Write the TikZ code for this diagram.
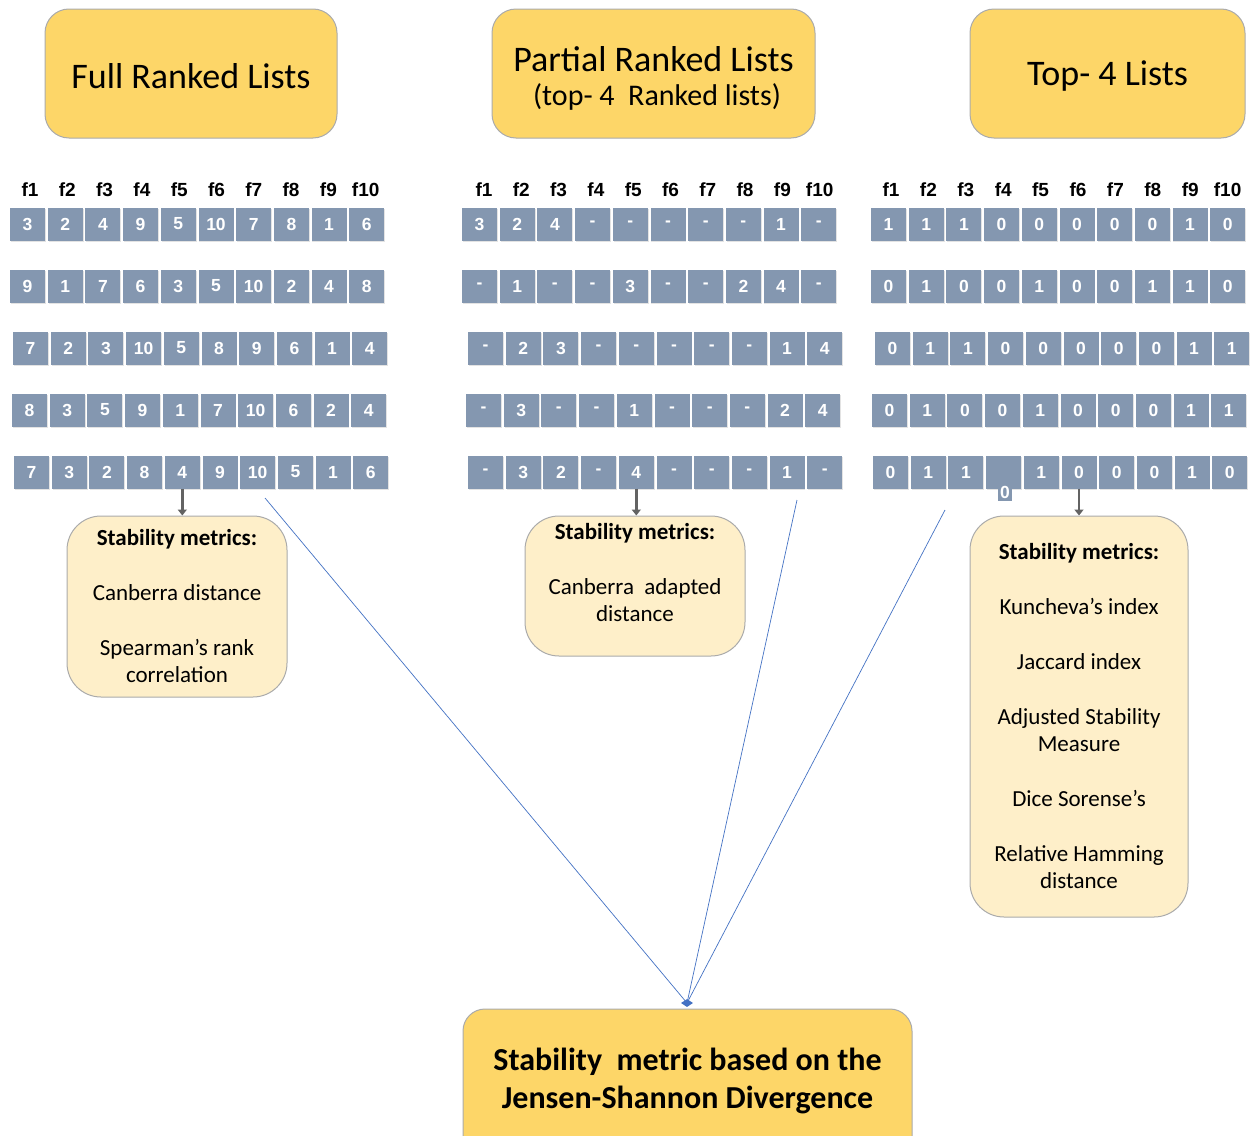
\documentclass[tikz,border=0pt]{standalone}
\usepackage{fontspec}
\setmainfont{Carlito}
\newfontfamily\arialf{Liberation Sans}
\usetikzlibrary{shapes.geometric,arrows.meta,shadows,calc}
\definecolor{titlefill}{HTML}{FDD668}
\definecolor{boxedge}{HTML}{ABABAB}
\definecolor{metfill}{HTML}{FEEFC9}
\definecolor{cellblue}{HTML}{8497B0}
\definecolor{linkblue}{HTML}{4472C4}
\definecolor{arrowgray}{HTML}{636363}
\newcommand\mycellrow[4]{%
  \foreach \v [count=\i] in {#4} {
    \node[cellbox] (#1c\i) at ({#2+17.5+37.7*(\i-1)}, #3) {\v};
  }%
}
\begin{document}
\begin{tikzpicture}[x=1pt,y=-1pt,
  titlebox/.style={draw=boxedge, line width=1pt, fill=titlefill, rounded corners=24pt, align=center},
  titletext/.style={inner sep=0pt, font=\fontsize{36}{40}\selectfont},
  metricbox/.style={draw=boxedge, line width=1pt, fill=metfill, rounded corners=34pt, align=center,
    font=\fontsize{23}{27}\selectfont},
  metrictext/.style={align=center, inner sep=0pt, font=\fontsize{23}{27}\selectfont},
  cellbox/.style={fill=cellblue, minimum width=35pt, minimum height=33pt, inner sep=0pt, text=white,
    font=\arialf\bfseries\fontsize{17.5}{17.5}\selectfont,
    drop shadow={shadow xshift=0.8pt, shadow yshift=-1.5pt, opacity=0.22}},
  head/.style={font=\arialf\bfseries\fontsize{19}{19}\selectfont, inner sep=0pt},
  downarrow/.style={draw=arrowgray, line width=2.5pt, -{Triangle[width=9pt,length=6pt]}},
  link/.style={draw=linkblue, line width=0.7pt}
]
\useasboundingbox (0,0) rectangle (1258,1135);
\fill[white] (0,0) rectangle (1258,1135);

% title boxes
\node[titlebox, minimum width=292, minimum height=129] (full) at (191,73.5) {};
\node[titletext] (fulltext) at (191,76) {Full Ranked Lists};
\node[titlebox, minimum width=323, minimum height=129] (partial) at (653.5,73.5) {};
\node[titletext] (partialtext1) at (653.5,59) {Partial Ranked Lists};
\node[titletext, font=\fontsize{30}{36}\selectfont] (partialtext2) at (657,97) {(top- 4~ Ranked lists)};
\node[titlebox, minimum width=275, minimum height=129] (topk) at (1107.5,73.5) {};
\node[titletext] (topktext) at (1107.5,76) {Top- 4 Lists};

% column headers
\foreach \i in {1,...,10} {
  \node[head] (ah\i) at ({30+37.3*(\i-1)},190) {f\i};
  \node[head] (bh\i) at ({484+37.3*(\i-1)},190) {f\i};
  \node[head] (ch\i) at ({891+37.4*(\i-1)},190) {f\i};
}

% full ranked lists
\mycellrow{a1}{10}{224}{3,2,4,9,5,10,7,8,1,6}
\mycellrow{a2}{10}{286}{9,1,7,6,3,5,10,2,4,8}
\mycellrow{a3}{13}{348}{7,2,3,10,5,8,9,6,1,4}
\mycellrow{a4}{12}{410}{8,3,5,9,1,7,10,6,2,4}
\mycellrow{a5}{14}{472}{7,3,2,8,4,9,10,5,1,6}

% partial ranked lists
\mycellrow{b1}{462}{224}{3,2,4,-,-,-,-,-,1,-}
\mycellrow{b2}{462}{286}{-,1,-,-,3,-,-,2,4,-}
\mycellrow{b3}{468}{348}{-,2,3,-,-,-,-,-,1,4}
\mycellrow{b4}{466}{410}{-,3,-,-,1,-,-,-,2,4}
\mycellrow{b5}{468}{472}{-,3,2,-,4,-,-,-,1,-}

% top-4 lists
\mycellrow{c1}{871}{224}{1,1,1,0,0,0,0,0,1,0}
\mycellrow{c2}{871}{286}{0,1,0,0,1,0,0,1,1,0}
\mycellrow{c3}{875}{348}{0,1,1,0,0,0,0,0,1,1}
\mycellrow{c4}{872}{410}{0,1,0,0,1,0,0,0,1,1}
\mycellrow{c5}{873}{472}{0,1,1,{},1,0,0,0,1,0}
\node[fill=cellblue, text=white, inner sep=0pt, minimum width=14, minimum height=18,
  font=\arialf\bfseries\fontsize{17.5}{17.5}\selectfont] (zero) at (1005,492) {0};

% metric boxes
\node[metricbox, minimum width=220, minimum height=181] (mA) at (177,606.5)
  {\textbf{Stability metrics:}\\[28pt]Canberra distance\\[28pt]Spearman’s rank\\correlation};
\node[metricbox, minimum width=220, minimum height=140] (mB) at (635,586) {};
\node[metrictext] (tB) at (635,573) {\textbf{Stability metrics:}\\[28pt]Canberra~ adapted\\distance};
\node[metricbox, minimum width=218, minimum height=401] (mC) at (1079,716.5)
  {\textbf{Stability metrics:}\\[28pt]Kuncheva’s index\\[28pt]Jaccard index\\[28pt]Adjusted Stability\\Measure\\[28pt]Dice Sorense’s\\[28pt]Relative Hamming\\distance};

% arrows into the metric boxes
\draw[downarrow] (a5c5.south) -- (a5c5.south |- mA.north);
\draw[downarrow] (b5c5.south) -- (b5c5.south |- mB.north);
\draw[downarrow] (c5c6.south) -- (c5c6.south |- mC.north);

% bottom box
\node[titlebox, minimum width=449, minimum height=150, rounded corners=22pt] (jsd) at (687.5,1084) {};
\node[align=center, inner sep=0pt, font=\bfseries\fontsize{32}{38}\selectfont] (jsdtext) at (687.5,1081)
  {Stability~ metric based on the\\Jensen-Shannon Divergence};

% thin blue links
\coordinate (s1) at (265,498);
\coordinate (s2) at (797,500);
\coordinate (s3) at (945,510);
\node[diamond, fill=linkblue, minimum width=12, minimum height=8, inner sep=0pt] (meet) at (687,1003) {};
\draw[link] (s1) -- (meet.center);
\draw[link] (s2) -- (meet.center);
\draw[link] (s3) -- (meet.center);
\end{tikzpicture}
\end{document}
